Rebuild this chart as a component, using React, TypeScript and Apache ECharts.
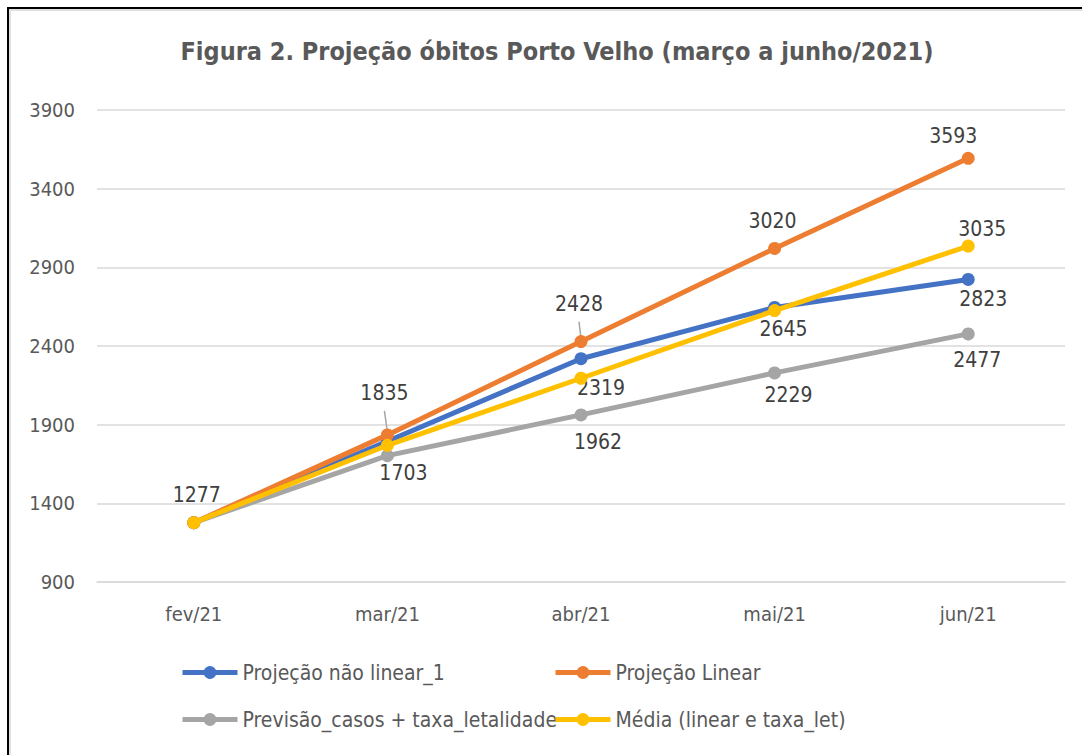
import React, { useEffect, useRef } from "react";
import * as echarts from "echarts";

const categories = ["fev/21", "mar/21", "abr/21", "mai/21", "jun/21"];
const naoLinear = [1277, 1795, 2319, 2645, 2823];
const linear = [1277, 1835, 2428, 3020, 3593];
const previsao = [1277, 1703, 1962, 2229, 2477];
const media = [1277, 1769, 2195, 2625, 3035];

const seriesNames = [
  "Projeção não linear_1",
  "Projeção Linear",
  "Previsão_casos + taxa_letalidade",
  "Média (linear e taxa_let)",
];
const colors = ["#4472C4", "#ED7D31", "#A5A5A5", "#FFC000"];

// which points carry a data label, and where (relative to the point)
const showNaoLinear = [false, false, true, true, true];
const offNaoLinear = [[0, 0], [0, 0], [20, 29], [9, 22], [15, 20]];
const showLinear = [true, true, true, true, true];
const offLinear = [[3, -28], [-3, -42], [-2, -38], [-2, -27], [-15, -22]];
const showPrevisao = [false, true, true, true, true];
const offPrevisao = [[0, 0], [16, 17], [17, 27], [14, 22], [9, 26]];
const showMedia = [false, false, false, false, true];
const offMedia = [[0, 0], [0, 0], [0, 0], [0, 0], [14, -17]];
const leaderLinear = [false, true, true, false, false];

const FONT = "'Liberation Sans Narrow', 'DejaVu Sans Condensed', 'Open Sans', sans-serif";

function mkData(vals: number[], show: boolean[], off: number[][]) {
  return vals.map((v, i) => ({
    value: v,
    label: { show: show[i], offset: off[i] },
  }));
}

function mkSeries(idx: number, vals: number[], show: boolean[], off: number[][], z: number) {
  return {
    name: seriesNames[idx],
    type: "line",
    z,
    data: mkData(vals, show, off),
    symbol: "circle",
    symbolSize: 13,
    lineStyle: { width: 5, color: colors[idx] },
    itemStyle: { color: colors[idx] },
    label: {
      position: "inside",
      color: "#404040",
      fontSize: 21,
      fontFamily: FONT,
    },
  };
}

export default function App() {
  const ref = useRef<HTMLDivElement>(null);
  useEffect(() => {
    if (!ref.current) return;
    const chart = echarts.init(ref.current, null, { renderer: "svg" });
    const legendBase = {
      orient: "horizontal",
      padding: 0,
      itemWidth: 55,
      itemHeight: 16,
      lineStyle: { width: 5 },
      textStyle: { color: "#595959", fontSize: 21, fontFamily: FONT },
    };
    chart.setOption({
      animation: false,
      backgroundColor: "#ffffff",
      title: {
        text: "Figura 2. Projeção óbitos Porto Velho (março a junho/2021)",
        left: 552,
        textAlign: "center",
        top: 34,
        textStyle: { color: "#595959", fontSize: 25, fontWeight: "bold", fontFamily: FONT },
      },
      grid: { left: 97, right: 17, top: 110, bottom: 173, containLabel: false },
      xAxis: {
        type: "category",
        data: categories,
        boundaryGap: true,
        axisLine: { lineStyle: { color: "#d9d9d9", width: 1.5 } },
        axisTick: { show: false },
        axisLabel: { color: "#595959", fontSize: 20, fontFamily: FONT, margin: 22 },
      },
      yAxis: {
        type: "value",
        min: 900,
        max: 3900,
        interval: 500,
        axisLine: { show: false },
        axisTick: { show: false },
        splitLine: { lineStyle: { color: "#d9d9d9", width: 1.5 } },
        axisLabel: {
          color: "#595959",
          fontSize: 20,
          fontFamily: FONT,
          margin: 22,
          formatter: (v: number) => String(v),
        },
      },
      legend: [
        { ...legendBase, data: [seriesNames[0]], left: 180, top: 662 },
        { ...legendBase, data: [seriesNames[1]], left: 553, top: 662 },
        { ...legendBase, data: [seriesNames[2]], left: 180, top: 709 },
        { ...legendBase, data: [seriesNames[3]], left: 553, top: 709 },
      ],
      series: [
        mkSeries(0, naoLinear, showNaoLinear, offNaoLinear, 3),
        mkSeries(1, linear, showLinear, offLinear, 4),
        mkSeries(2, previsao, showPrevisao, offPrevisao, 2),
        mkSeries(3, media, showMedia, offMedia, 5),
      ],
    });
    // leader lines for displaced labels of the linear series
    const lines: any[] = [];
    linear.forEach((v, i) => {
      if (!leaderLinear[i]) return;
      const p = chart.convertToPixel({ seriesIndex: 1 }, [i, v]) as number[];
      const lx = p[0] + offLinear[i][0];
      const ly = p[1] + offLinear[i][1] + 18;
      lines.push({
        type: "line",
        z: 1,
        shape: { x1: lx, y1: ly, x2: p[0], y2: p[1] - 3 },
        style: { stroke: "#a6a6a6", lineWidth: 1.5 },
      });
    });
    chart.setOption({ graphic: lines });
    return () => chart.dispose();
  }, []);
  return (
    <div style={{ position: "fixed", left: 0, top: 0, width: 1082, height: 755, background: "#fff" }}>
      <div ref={ref} style={{ position: "absolute", left: 0, top: 0, width: 1082, height: 755 }} />
      <div
        style={{
          position: "absolute",
          left: 7,
          top: 7,
          width: 1075,
          height: 748,
          borderLeft: "2px solid #000",
          borderTop: "2px solid #000",
          boxShadow: "inset 2px 2px 0 #e0e0e0",
          pointerEvents: "none",
        }}
      />
    </div>
  );
}
